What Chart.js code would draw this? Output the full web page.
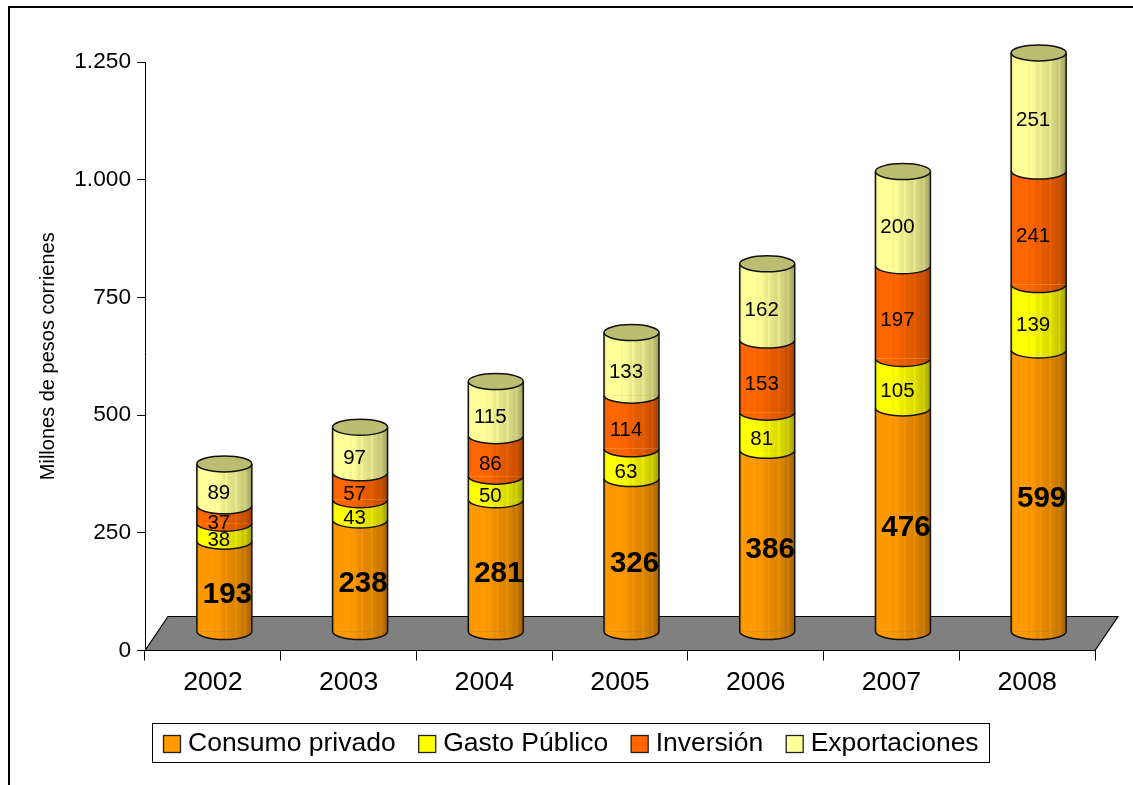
<!DOCTYPE html>
<html><head><meta charset="utf-8">
<script src="https://cdn.jsdelivr.net/npm/chart.js@4"></script>
<style>html,body{margin:0;padding:0;background:#fff}canvas{display:block}</style>
</head><body><canvas id="c" width="1133" height="785"></canvas>
<script>
const years = ['2002','2003','2004','2005','2006','2007','2008'];
const consumo = [193,238,281,326,386,476,599];
const gasto = [38,43,50,63,81,105,139];
const inversion = [37,57,86,114,153,197,241];
const exportaciones = [89,97,115,133,162,200,251];
const seriesNames = ['Consumo privado','Gasto Público','Inversión','Exportaciones'];
const seriesRgb = [[255,153,0],[255,255,0],[255,102,0],[255,255,153]];
const yTicks = [0,250,500,750,1000,1250];
const yTitle = 'Millones de pesos corrienes';

const shading = [[0,.85],[.05,1],[.3,1],[.33,.96],[.36,1],[.42,.97],[.5,.9],[.53,.97],[.56,.9],[.68,.86],[.71,.93],[.74,.86],[.85,.78],[.88,.84],[.9,.76],[1,.62]];
const DX = 11.5, DY = -18.5, DEPTH_X = 23, DEPTH_Y = 34, RY = 8;
const barW = 55;
const rgb = (c,f=1) => `rgb(${c.map(v=>Math.round(v*f)).join(',')})`;

function cylinderFill(ctx, i, ds){
  const c = ctx.chart.ctx, xs = ctx.chart.scales.x && ctx.chart.scales.x.getPixelForValue(i);
  if (!Number.isFinite(xs)) return rgb(seriesRgb[ds]);
  const g = c.createLinearGradient(xs - barW/2, 0, xs + barW/2, 0);
  shading.forEach(([p,f])=>g.addColorStop(p, rgb(seriesRgb[ds],f)));
  return g;
}
const values = [consumo, gasto, inversion, exportaciones];
const datasets = values.map((v,ds)=>({
  label: seriesNames[ds], data: v, stack:'a',
  backgroundColor: ctx => ctx.dataIndex === undefined ? rgb(seriesRgb[ds]) : cylinderFill(ctx, ctx.dataIndex, ds),
  borderWidth: 0
}));

function drawLegend(c){
  c.save();
  c.fillStyle='#fff'; c.strokeStyle='#000'; c.lineWidth=1;
  c.fillRect(152.5,723.5,837,39); c.strokeRect(152.5,723.5,837,39);
  c.font='26.5px "Liberation Sans"'; c.textAlign='left'; c.textBaseline='middle';
  let x=163;
  seriesNames.forEach((t,i)=>{
    c.fillStyle=rgb(seriesRgb[i]); c.strokeStyle='#222'; c.lineWidth=1.3;
    c.fillRect(x+.5,735.5,17,17); c.strokeRect(x+.5,735.5,17,17);
    c.fillStyle='#000'; c.fillText(t,x+25,743.5);
    x+=25+c.measureText(t).width+22.5;
  });
  c.restore();
}

const cylinders = {
  id:'cylinders',
  beforeDraw(chart){
    const c = chart.ctx; c.save();
    c.fillStyle='#fff'; c.fillRect(0,0,chart.width,chart.height);
    c.strokeStyle='#000'; c.lineWidth=2;
    c.beginPath(); c.moveTo(9,785); c.lineTo(9,7); c.lineTo(1133,7); c.stroke();
    c.restore();
  },
  beforeDatasetDraw(){ return false; },
  beforeDatasetsDraw(chart){
    const c = chart.ctx, a = chart.chartArea; c.save();
    const y0 = chart.scales.y.getPixelForValue(0);
    c.fillStyle='#808080'; c.strokeStyle='#000'; c.lineWidth=1.2;
    c.beginPath(); c.moveTo(a.left,y0); c.lineTo(a.left+DEPTH_X,y0-DEPTH_Y);
    c.lineTo(a.right+DEPTH_X,y0-DEPTH_Y); c.lineTo(a.right,y0); c.closePath(); c.fill(); c.stroke();
    c.restore();
  },
  afterDatasetsDraw(chart){
    const c = chart.ctx; c.save(); c.translate(DX,DY);
    const metas = chart.data.datasets.map((d,i)=>chart.getDatasetMeta(i));
    metas.forEach(meta=>{
      meta.data.forEach(bar=>{
        const rx = bar.width/2;
        bar.draw(c);
        c.fillStyle = bar.options.backgroundColor;
        c.beginPath(); c.ellipse(bar.x,bar.base,rx,RY,0,0,Math.PI); c.closePath(); c.fill();
        c.strokeStyle='#111'; c.lineWidth=1.5;
        c.beginPath(); c.moveTo(bar.x-rx,bar.y); c.lineTo(bar.x-rx,bar.base);
        c.ellipse(bar.x,bar.base,rx,RY,0,Math.PI,0,true);
        c.lineTo(bar.x+rx,bar.y); c.stroke();
      });
    });
    metas[metas.length-1].data.forEach(bar=>{
      c.fillStyle='#BDBD72'; c.strokeStyle='#111'; c.lineWidth=1.5;
      c.beginPath(); c.ellipse(bar.x,bar.y,bar.width/2,RY,0,0,Math.PI*2); c.fill(); c.stroke();
    });
    c.textAlign='center'; c.textBaseline='middle'; c.fillStyle='#000';
    metas.forEach((meta,ds)=>{
      c.font = ds===0 ? 'bold 29.5px "Liberation Sans"' : '20.5px "Liberation Sans"';
      meta.data.forEach((bar,i)=>{
        c.fillText(String(values[ds][i]), bar.x+(ds===0?3:-5.5), (bar.y+bar.base)/2+8.5);
      });
    });
    c.restore();
    drawLegend(c);
  }
};

new Chart(document.getElementById('c'),{
  type:'bar',
  data:{labels:years,datasets},
  plugins:[cylinders],
  options:{
    responsive:false, animation:false, devicePixelRatio:1,
    barPercentage:55/135.7, categoryPercentage:1,
    layout:{padding:{left:45,right:38,top:62,bottom:74.5}},
    plugins:{tooltip:{enabled:false},legend:{display:false}},
    scales:{
      x:{stacked:true,
        grid:{drawOnChartArea:false,color:'#000',tickLength:10,offset:true},
        border:{color:'#000',width:1},
        ticks:{color:'#000',font:{family:'"Liberation Sans"',size:26.7},padding:6,maxRotation:0},
        afterFit(s){s.height=60;}
      },
      y:{stacked:true,min:0,max:1250,
        grid:{drawOnChartArea:false,color:'#000',tickLength:8},
        border:{color:'#000',width:1},
        afterBuildTicks(s){s.ticks=yTicks.map(v=>({value:v}));},
        ticks:{color:'#000',font:{family:'"Liberation Sans"',size:22.7},padding:6,
          callback:v=>v.toLocaleString('de-DE')},
        title:{display:true,text:yTitle,color:'#000',font:{family:'"Liberation Sans"',size:20},padding:{top:-9,bottom:0}},
        afterFit(s){s.width=100;}
      }
    }
  }
});
</script></body></html>
